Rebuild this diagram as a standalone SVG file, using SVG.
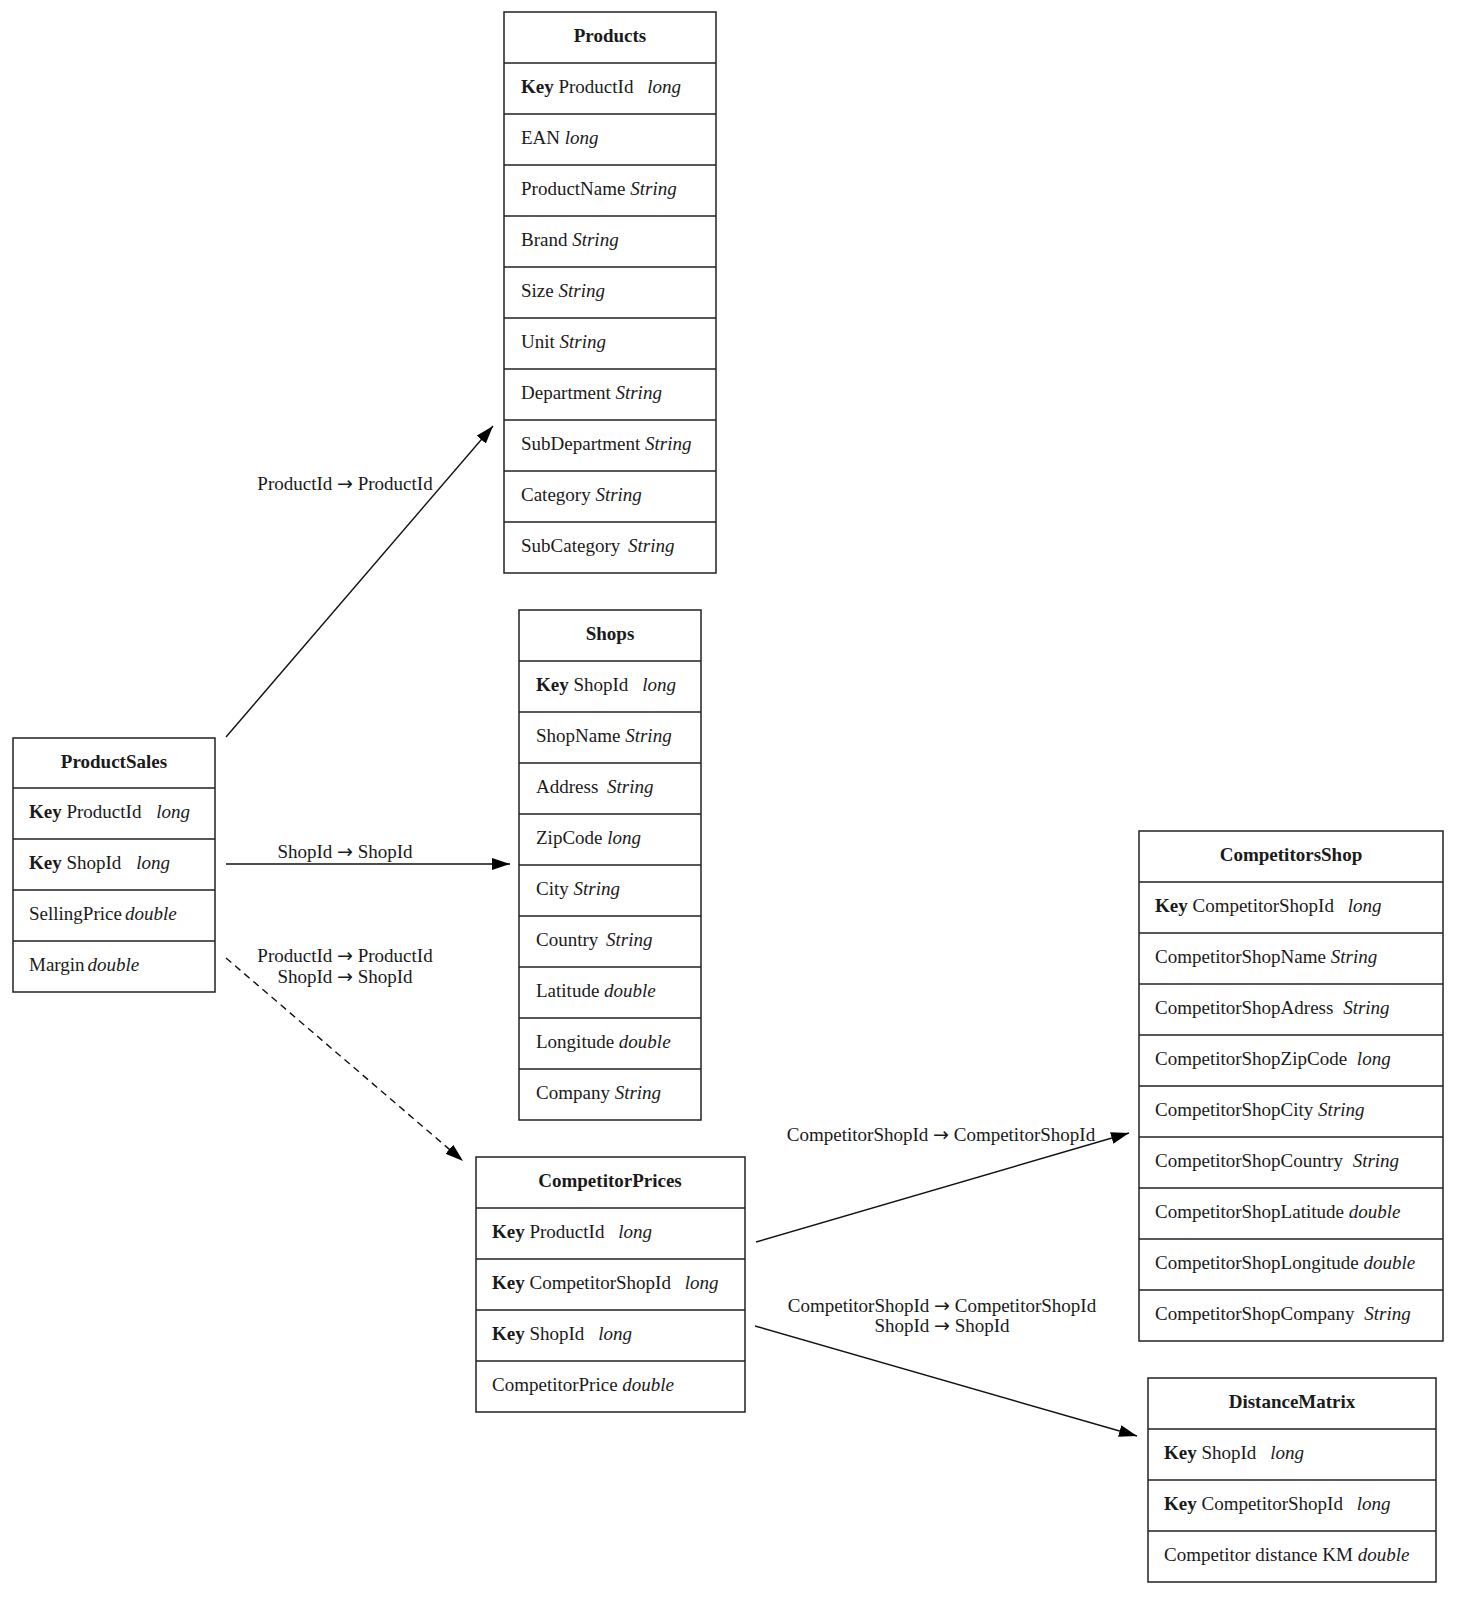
<svg xmlns="http://www.w3.org/2000/svg" width="1468" height="1600" viewBox="0 0 1468 1600">
<defs>
<style>
text{font-family:"Liberation Serif","Times New Roman",serif;font-size:19px;fill:#1a1a1a}
.h{font-weight:bold;text-anchor:middle}
.k{font-weight:bold}
.t{font-style:italic}
.a{font-family:"DejaVu Sans",sans-serif;font-size:19px}
.box{fill:#fff;stroke:#222;stroke-width:1.5}
.sep{stroke:#222;stroke-width:1.5}
.edge{stroke:#111;stroke-width:1.4;fill:none}
.dash{stroke-dasharray:7,5}
.lbl{text-anchor:middle}
</style>
<marker id="arr" markerUnits="userSpaceOnUse" markerWidth="20" markerHeight="14" refX="18" refY="6" orient="auto">
<path d="M0,0 L18,6 L0,12 z" fill="#000"/>
</marker>
</defs>
<rect width="1468" height="1600" fill="#fff"/>

<g id="Products">
<rect class="box" x="504" y="12" width="212" height="561"/>
<path class="sep" d="M504,63H716M504,114H716M504,165H716M504,216H716M504,267H716M504,318H716M504,369H716M504,420H716M504,471H716M504,522H716"/>
<text class="h" x="610" y="42">Products</text>
<text x="521" y="93"><tspan class="k">Key</tspan> ProductId <tspan class="t" dx="9">long</tspan></text>
<text x="521" y="144">EAN <tspan class="t">long</tspan></text>
<text x="521" y="195">ProductName <tspan class="t">String</tspan></text>
<text x="521" y="246">Brand <tspan class="t">String</tspan></text>
<text x="521" y="297">Size <tspan class="t">String</tspan></text>
<text x="521" y="348">Unit <tspan class="t">String</tspan></text>
<text x="521" y="399">Department <tspan class="t">String</tspan></text>
<text x="521" y="450">SubDepartment <tspan class="t">String</tspan></text>
<text x="521" y="501">Category <tspan class="t">String</tspan></text>
<text x="521" y="552">SubCategory <tspan class="t" dx="3">String</tspan></text>
</g>

<g id="Shops">
<rect class="box" x="519" y="610" width="182" height="510"/>
<path class="sep" d="M519,661H701M519,712H701M519,763H701M519,814H701M519,865H701M519,916H701M519,967H701M519,1018H701M519,1069H701"/>
<text class="h" x="610" y="640">Shops</text>
<text x="536" y="691"><tspan class="k">Key</tspan> ShopId <tspan class="t" dx="9">long</tspan></text>
<text x="536" y="742">ShopName <tspan class="t">String</tspan></text>
<text x="536" y="793">Address <tspan class="t" dx="4">String</tspan></text>
<text x="536" y="844">ZipCode <tspan class="t">long</tspan></text>
<text x="536" y="895">City <tspan class="t">String</tspan></text>
<text x="536" y="946">Country <tspan class="t" dx="3">String</tspan></text>
<text x="536" y="997">Latitude <tspan class="t">double</tspan></text>
<text x="536" y="1048">Longitude <tspan class="t">double</tspan></text>
<text x="536" y="1099">Company <tspan class="t">String</tspan></text>
</g>

<g id="ProductSales">
<rect class="box" x="13" y="738" width="202" height="254"/>
<path class="sep" d="M13,788H215M13,839H215M13,890H215M13,941H215"/>
<text class="h" x="114" y="768">ProductSales</text>
<text x="29" y="818"><tspan class="k">Key</tspan> ProductId <tspan class="t" dx="10">long</tspan></text>
<text x="29" y="869"><tspan class="k">Key</tspan> ShopId <tspan class="t" dx="10">long</tspan></text>
<text x="29" y="920">SellingPrice<tspan class="t" dx="3">double</tspan></text>
<text x="29" y="971">Margin<tspan class="t" dx="3">double</tspan></text>
</g>

<g id="CompetitorPrices">
<rect class="box" x="476" y="1157" width="269" height="255"/>
<path class="sep" d="M476,1208H745M476,1259H745M476,1310H745M476,1361H745"/>
<text class="h" x="610" y="1187">CompetitorPrices</text>
<text x="492" y="1238"><tspan class="k">Key</tspan> ProductId <tspan class="t" dx="9">long</tspan></text>
<text x="492" y="1289"><tspan class="k">Key</tspan> CompetitorShopId <tspan class="t" dx="9">long</tspan></text>
<text x="492" y="1340"><tspan class="k">Key</tspan> ShopId <tspan class="t" dx="9">long</tspan></text>
<text x="492" y="1391">CompetitorPrice <tspan class="t">double</tspan></text>
</g>

<g id="CompetitorsShop">
<rect class="box" x="1139" y="831" width="304" height="510"/>
<path class="sep" d="M1139,882H1443M1139,933H1443M1139,984H1443M1139,1035H1443M1139,1086H1443M1139,1137H1443M1139,1188H1443M1139,1239H1443M1139,1290H1443"/>
<text class="h" x="1291" y="861">CompetitorsShop</text>
<text x="1155" y="912"><tspan class="k">Key</tspan> CompetitorShopId <tspan class="t" dx="9">long</tspan></text>
<text x="1155" y="963">CompetitorShopName <tspan class="t">String</tspan></text>
<text x="1155" y="1014">CompetitorShopAdress <tspan class="t" dx="5">String</tspan></text>
<text x="1155" y="1065">CompetitorShopZipCode <tspan class="t" dx="5">long</tspan></text>
<text x="1155" y="1116">CompetitorShopCity <tspan class="t">String</tspan></text>
<text x="1155" y="1167">CompetitorShopCountry <tspan class="t" dx="5">String</tspan></text>
<text x="1155" y="1218">CompetitorShopLatitude <tspan class="t">double</tspan></text>
<text x="1155" y="1269">CompetitorShopLongitude <tspan class="t">double</tspan></text>
<text x="1155" y="1320">CompetitorShopCompany <tspan class="t" dx="5">String</tspan></text>
</g>

<g id="DistanceMatrix">
<rect class="box" x="1148" y="1378" width="288" height="204"/>
<path class="sep" d="M1148,1429H1436M1148,1480H1436M1148,1531H1436"/>
<text class="h" x="1292" y="1408">DistanceMatrix</text>
<text x="1164" y="1459"><tspan class="k">Key</tspan> ShopId <tspan class="t" dx="9">long</tspan></text>
<text x="1164" y="1510"><tspan class="k">Key</tspan> CompetitorShopId <tspan class="t" dx="9">long</tspan></text>
<text x="1164" y="1561">Competitor distance KM <tspan class="t">double</tspan></text>
</g>

<g id="connectors">
<line class="edge" x1="226" y1="737" x2="493" y2="426" marker-end="url(#arr)"/>
<text class="lbl" x="345" y="490">ProductId <tspan class="a">→</tspan> ProductId</text>
<line class="edge" x1="226" y1="864" x2="510" y2="864" marker-end="url(#arr)"/>
<text class="lbl" x="345" y="858">ShopId <tspan class="a">→</tspan> ShopId</text>
<line class="edge dash" x1="226" y1="958" x2="463" y2="1161" marker-end="url(#arr)"/>
<text class="lbl" x="345" y="962">ProductId <tspan class="a">→</tspan> ProductId</text>
<text class="lbl" x="345" y="983">ShopId <tspan class="a">→</tspan> ShopId</text>
<line class="edge" x1="756" y1="1242" x2="1129" y2="1133" marker-end="url(#arr)"/>
<text class="lbl" x="941" y="1141">CompetitorShopId <tspan class="a">→</tspan> CompetitorShopId</text>
<line class="edge" x1="755" y1="1326" x2="1137" y2="1436" marker-end="url(#arr)"/>
<text class="lbl" x="942" y="1312">CompetitorShopId <tspan class="a">→</tspan> CompetitorShopId</text>
<text class="lbl" x="942" y="1332">ShopId <tspan class="a">→</tspan> ShopId</text>
</g>
</svg>
